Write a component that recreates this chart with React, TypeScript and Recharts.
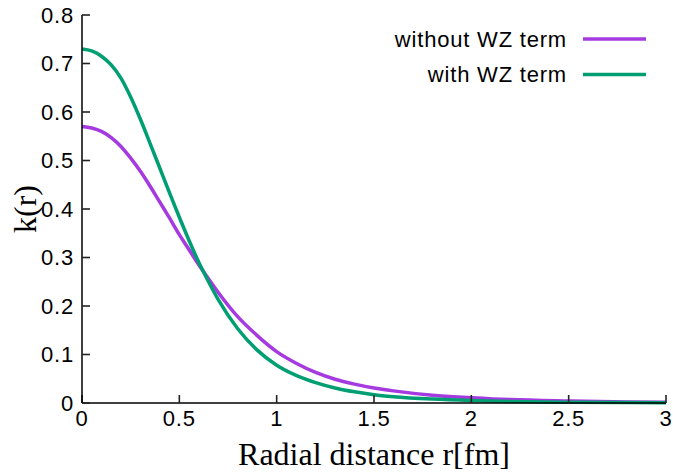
import React from 'react';
import { LineChart, Line, XAxis, YAxis, Legend } from 'recharts';

const rValues = [0, 0.05, 0.1, 0.15, 0.2, 0.25, 0.3, 0.35, 0.4, 0.45, 0.5, 0.55, 0.6, 0.65, 0.7, 0.8, 0.9, 1.0, 1.1, 1.2, 1.3, 1.4, 1.5, 1.6, 1.8, 2.0, 2.2, 2.5, 2.8, 3.0];
const withoutWZ = [0.570, 0.567, 0.560, 0.547, 0.529, 0.505, 0.478, 0.447, 0.414, 0.381, 0.347, 0.316, 0.285, 0.256, 0.228, 0.178, 0.139, 0.106, 0.082, 0.063, 0.049, 0.039, 0.031, 0.025, 0.016, 0.011, 0.007, 0.004, 0.002, 0.0015];
const withWZ = [0.730, 0.726, 0.715, 0.697, 0.670, 0.631, 0.585, 0.535, 0.484, 0.433, 0.383, 0.335, 0.290, 0.250, 0.213, 0.153, 0.109, 0.078, 0.057, 0.042, 0.031, 0.023, 0.017, 0.013, 0.008, 0.005, 0.003, 0.0015, 0.0008, 0.0005];

const xTicks = [0, 0.5, 1, 1.5, 2, 2.5, 3];
const xTickLabels = ['0', '0.5', '1', '1.5', '2', '2.5', '3'];
const yTicks = [0, 0.1, 0.2, 0.3, 0.4, 0.5, 0.6, 0.7, 0.8];
const yTickLabels = ['0', '0.1', '0.2', '0.3', '0.4', '0.5', '0.6', '0.7', '0.8'];

const seriesNames = ['without WZ term', 'with WZ term'];
const seriesColors = ['#a53ae0', '#009e73'];

const data = rValues.map((r, i) => ({ r, without: withoutWZ[i], with: withWZ[i] }));

const SANS = '"Liberation Sans", Arial, sans-serif';
const SERIF = '"Liberation Serif", "Times New Roman", serif';
const TICK_LEN = 8;
const tickLineStyle = { stroke: '#222', strokeWidth: 1.6 };

const BottomTick = (props: any) => {
  const { x, y, payload } = props;
  const idx = xTicks.indexOf(payload.value);
  return (
    <text x={x} y={y + 22.5} textAnchor="middle" fontFamily={SANS} fontSize={22} letterSpacing={0.8} fill="#000">
      {idx >= 0 ? xTickLabels[idx] : payload.value}
    </text>
  );
};

const LeftTick = (props: any) => {
  const { x, y, payload } = props;
  const idx = yTicks.findIndex((t) => Math.abs(t - payload.value) < 1e-9);
  return (
    <text x={x - 8} y={y + 7.5} textAnchor="end" fontFamily={SANS} fontSize={22} letterSpacing={0.8} fill="#000">
      {idx >= 0 ? yTickLabels[idx] : payload.value}
    </text>
  );
};

const EmptyTick = () => <g />;

const LegendContent = () => {
  const rows = [39, 74.5];
  return (
    <svg width={673} height={100} style={{ display: 'block' }}>
      {seriesNames.map((name, i) => (
        <g key={name}>
          <text x={567} y={rows[i] + 7.5} textAnchor="end" fontFamily={SANS} fontSize={22} letterSpacing={0.8} fill="#000">
            {name}
          </text>
          <line x1={583} y1={rows[i]} x2={646} y2={rows[i]} stroke={seriesColors[i]} strokeWidth={3.5} />
        </g>
      ))}
    </svg>
  );
};

export default function App() {
  return (
    <div style={{ position: 'absolute', left: 0, top: 0, width: 673, height: 475, background: '#fff' }}>
      <LineChart width={673} height={475} data={data} margin={{ top: 15, right: 7, bottom: 0, left: 0 }}>
        <XAxis
          xAxisId="bottom"
          dataKey="r"
          type="number"
          domain={[0, 3]}
          ticks={xTicks}
          height={72}
          tickSize={-TICK_LEN}
          tickMargin={TICK_LEN}
          tickLine={tickLineStyle}
          axisLine={{ stroke: '#000', strokeWidth: 1.5 }}
          tick={<BottomTick />}
          interval={0}
          label={{ value: 'Radial distance r[fm]', position: 'insideBottom', offset: 0, content: () => (
            <text x={374} y={465} textAnchor="middle" fontFamily={SERIF} fontSize={32} fill="#000">Radial distance r[fm]</text>
          ) }}
        />
        <XAxis
          xAxisId="top"
          orientation="top"
          dataKey="r"
          type="number"
          domain={[0, 3]}
          ticks={xTicks}
          height={0}
          tickSize={-TICK_LEN}
          tickMargin={0}
          tickLine={tickLineStyle}
          axisLine={{ stroke: '#000', strokeWidth: 1.5 }}
          tick={<EmptyTick />}
          interval={0}
        />
        <YAxis
          yAxisId="left"
          type="number"
          domain={[0, 0.8]}
          ticks={yTicks}
          width={82}
          tickSize={-TICK_LEN}
          tickMargin={TICK_LEN}
          tickLine={tickLineStyle}
          axisLine={{ stroke: '#000', strokeWidth: 1.5 }}
          tick={<LeftTick />}
          interval={0}
          label={{ value: 'k(r)', position: 'insideLeft', content: () => (
            <text x={36} y={209} transform="rotate(-90, 36, 209)" textAnchor="middle" fontFamily={SERIF} fontSize={32} fill="#000">k(r)</text>
          ) }}
        />
        <YAxis
          yAxisId="right"
          orientation="right"
          type="number"
          domain={[0, 0.8]}
          ticks={yTicks}
          width={0}
          tickSize={-TICK_LEN}
          tickMargin={0}
          tickLine={tickLineStyle}
          axisLine={{ stroke: '#000', strokeWidth: 1.5 }}
          tick={<EmptyTick />}
          interval={0}
        />
        <Legend
          layout="horizontal"
          verticalAlign="middle"
          align="center"
          wrapperStyle={{ top: 0, left: 0, width: 673, height: 100 }}
          content={<LegendContent />}
        />
        <Line
          xAxisId="bottom"
          yAxisId="left"
          type="monotone"
          dataKey="without"
          stroke={seriesColors[0]}
          strokeWidth={3.5}
          dot={false}
          isAnimationActive={false}
        />
        <Line
          xAxisId="bottom"
          yAxisId="left"
          type="monotone"
          dataKey="with"
          stroke={seriesColors[1]}
          strokeWidth={3.5}
          dot={false}
          isAnimationActive={false}
        />
      </LineChart>
    </div>
  );
}
